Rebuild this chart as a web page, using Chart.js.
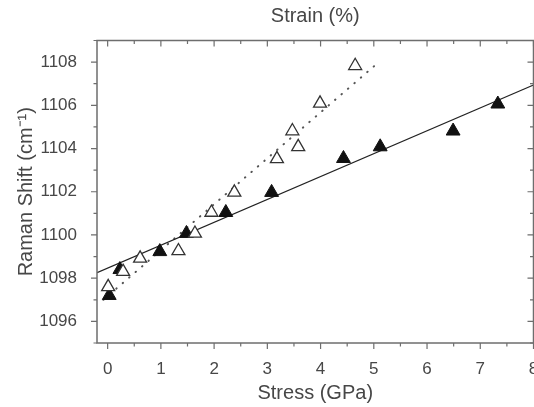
<!DOCTYPE html>
<html>
<head>
<meta charset="utf-8">
<script src="https://cdn.jsdelivr.net/npm/chart.js@4.4.1/dist/chart.umd.min.js"></script>
<style>
    html, body { margin: 0; padding: 0; background: #fff; overflow: hidden; }
    #wrap { width: 560px; height: 407px; }
</style>
</head>
<body>
<div id="wrap"><canvas id="ramanChart"></canvas></div>
<script>
// Filled triangles
const filledStress = [0.03, 0.23, 0.98, 1.48, 2.22, 3.08, 4.43, 5.12, 6.49, 7.33];
const filledShift = [1097.2, 1098.4, 1099.23, 1100.07, 1101.04, 1101.97, 1103.54, 1104.08, 1104.81, 1106.06];

// Open triangles
const openStress = [0.01, 0.29, 0.61, 1.33, 1.64, 1.95, 2.38, 3.18, 3.47, 3.58, 3.99, 4.65];
const openShift = [1097.6, 1098.3, 1098.92, 1099.26, 1100.07, 1101.04, 1101.97, 1103.52, 1104.81, 1104.08, 1106.09, 1107.83];

// Fit lines (end points)
const solidFitStress = [-0.2, 8];
const solidFitShift = [1098.25, 1106.94];
const dottedFitStress = [-0.08, 5.08];
const dottedFitShift = [1097.0, 1107.97];

// Tick labels
const stressTicks = [0, 1, 2, 3, 4, 5, 6, 7, 8];
const shiftTicks = [1096, 1098, 1100, 1102, 1104, 1106, 1108];

const toPoints = (xs, ys) => xs.map((v, i) => ({ x: v, y: ys[i] }));

const textColor = '#474747';
const axisColor = '#6e6e6e';

// Frame + major/minor tick marks like the original plot
const frameTicks = {
    id: 'frameTicks',
    afterDatasetsDraw(chart) {
        const { ctx, chartArea: a, scales } = chart;
        const x = scales.x, y = scales.y;
        ctx.save();
        ctx.strokeStyle = axisColor;
        ctx.lineWidth = 1.5;
        ctx.strokeRect(a.left, a.top, a.right - a.left, a.bottom - a.top);
        ctx.lineWidth = 1.2;
        ctx.beginPath();
        stressTicks.forEach((v, i) => {
            const px = x.getPixelForValue(v);
            ctx.moveTo(px, a.bottom); ctx.lineTo(px, a.bottom + 6);
            ctx.moveTo(px, a.top); ctx.lineTo(px, a.top + 6);
            if (i < stressTicks.length - 1) {
                const pm = x.getPixelForValue(v + 0.5);
                ctx.moveTo(pm, a.bottom); ctx.lineTo(pm, a.bottom + 3.5);
                ctx.moveTo(pm, a.top); ctx.lineTo(pm, a.top + 3.5);
            }
        });
        shiftTicks.forEach(v => {
            const py = y.getPixelForValue(v);
            ctx.moveTo(a.left, py); ctx.lineTo(a.left - 6, py);
            ctx.moveTo(a.right, py); ctx.lineTo(a.right - 6, py);
            [v - 1, v + 1].forEach(m => {
                const pm = y.getPixelForValue(m);
                ctx.moveTo(a.left, pm); ctx.lineTo(a.left - 3.5, pm);
                ctx.moveTo(a.right, pm); ctx.lineTo(a.right - 3.5, pm);
            });
        });
        ctx.stroke();
        ctx.restore();
    }
};

const ctx = document.getElementById('ramanChart').getContext('2d');
new Chart(ctx, {
    type: 'scatter',
    data: {
        datasets: [
            {
                label: 'open',
                data: toPoints(openStress, openShift),
                pointStyle: 'triangle',
                pointRadius: 7.5,
                pointBackgroundColor: '#ffffff',
                pointBorderColor: '#333333',
                pointBorderWidth: 1.3,
                order: 0
            },
            {
                label: 'filled',
                data: toPoints(filledStress, filledShift),
                pointStyle: 'triangle',
                pointRadius: 8,
                pointBackgroundColor: '#111111',
                pointBorderColor: '#111111',
                pointBorderWidth: 1,
                order: 1
            },
            {
                label: 'solid fit',
                data: toPoints(solidFitStress, solidFitShift),
                showLine: true,
                borderColor: '#222222',
                borderWidth: 1.3,
                pointRadius: 0,
                order: 2
            },
            {
                label: 'dotted fit',
                data: toPoints(dottedFitStress, dottedFitShift),
                showLine: true,
                borderColor: '#555555',
                borderWidth: 2,
                borderDash: [0.5, 8],
                borderCapStyle: 'round',
                pointRadius: 0,
                order: 3
            }
        ]
    },
    options: {
        responsive: true,
        maintainAspectRatio: false,
        animation: false,
        layout: {
            padding: { left: 0, top: 0, right: 26.5, bottom: 0 }
        },
        scales: {
            x: {
                type: 'linear',
                position: 'bottom',
                min: -0.2,
                max: 8,
                grid: { display: false },
                border: { display: false },
                ticks: {
                    stepSize: 1,
                    includeBounds: false,
                    autoSkip: false,
                    padding: 8,
                    color: textColor,
                    font: { family: 'Liberation Sans', size: 17 },
                    callback: function(value) {
                        return stressTicks.includes(value) ? String(value) : '';
                    }
                },
                title: {
                    display: true,
                    text: 'Stress (GPa)',
                    color: textColor,
                    font: { family: 'Liberation Sans', size: 20 },
                    padding: { top: 0, bottom: 2 }
                },
                afterFit: function(scale) { scale.height = 64; }
            },
            x2: {
                type: 'linear',
                position: 'top',
                min: -0.2,
                max: 8,
                grid: { display: false },
                border: { display: false },
                ticks: { display: false },
                title: {
                    display: true,
                    text: 'Strain (%)',
                    color: textColor,
                    font: { family: 'Liberation Sans', size: 20 },
                    padding: { top: 4, bottom: 0 }
                },
                afterFit: function(scale) { scale.height = 40.5; }
            },
            y: {
                type: 'linear',
                position: 'left',
                min: 1095,
                max: 1109,
                grid: { display: false },
                border: { display: false },
                ticks: {
                    stepSize: 1,
                    autoSkip: false,
                    padding: 12,
                    color: textColor,
                    font: { family: 'Liberation Sans', size: 17 },
                    callback: function(value) {
                        return shiftTicks.includes(value) ? String(value) : '';
                    }
                },
                title: {
                    display: true,
                    text: 'Raman Shift (cm\u207B\u00B9)',
                    color: textColor,
                    font: { family: 'Liberation Sans', size: 20 },
                    padding: { top: 14, bottom: 0 }
                },
                afterFit: function(scale) { scale.width = 97; }
            }
        },
        plugins: {
            legend: { display: false },
            tooltip: { enabled: false }
        }
    },
    plugins: [frameTicks]
});
</script>
</body>
</html>
